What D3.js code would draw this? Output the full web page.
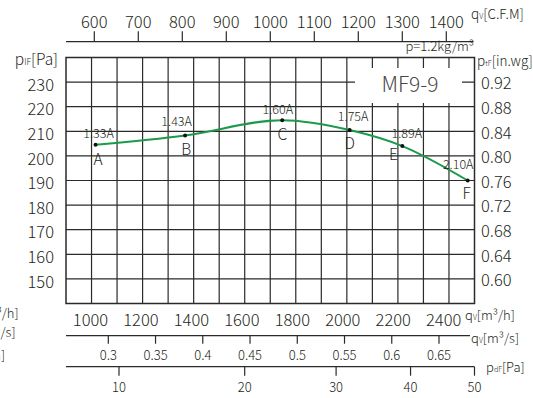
<!DOCTYPE html>
<html>
<head>
<meta charset="utf-8">
<script src="https://cdn.jsdelivr.net/npm/d3@7/dist/d3.min.js"></script>
<style>
  body { margin: 0; background: #fff; }
  svg { display: block; font-family: "Noto Sans CJK SC", "Noto Sans", sans-serif; font-weight: 300; }
  text { fill: #231f20; }
</style>
</head>
<body>
<svg width="533" height="398"></svg>
<script>
//// FAN CURVE MF9-9 ////

// Operating points
var pointNames = ["A", "B", "C", "D", "E", "F"];
var flowM3h = [1020, 1375, 1760, 2027, 2236, 2495];
var pressurePa = [204.5, 208.3, 214.5, 210.5, 204, 190];
var currents = ["1.33A", "1.43A", "1.60A", "1.75A", "1.89A", "2.10A"];

// Tick labels of every axis
var paTicks = [150, 160, 170, 180, 190, 200, 210, 220, 230];
var inwgTicks = ["0.60", "0.64", "0.68", "0.72", "0.76", "0.80", "0.84", "0.88", "0.92"];
var cfmTicks = [600, 700, 800, 900, 1000, 1100, 1200, 1300, 1400];
var m3hTicks = [1000, 1200, 1400, 1600, 1800, 2000, 2200, 2400];
var m3sTicks = [0.3, 0.35, 0.4, 0.45, 0.5, 0.55, 0.6, 0.65];
var pdTicks = [10, 20, 30, 40, 50];

// Layout
var svg = d3.select("svg");
var frame = {left: 66, right: 474.5, top: 57.5, bottom: 303.5};
var ink = "#2a2a2a";
var green = "#1c9a4b";

// nudges for the current label and the letter of each point [dx, dy]
var tagNudge = [
  [[3, -11], [2.5, 15]],
  [[-8.5, -14], [1, 14]],
  [[-4.5, -11], [0, 14.5]],
  [[3.5, -13], [0, 13.5]],
  [[4.5, -12], [-9, 8.5]],
  [[-9.5, -15.5], [-1, 13.5]]
];

// Scales
var y = d3.scaleLinear().domain([140, 240]).range([frame.bottom, frame.top]);
var yInwg = d3.scaleLinear().domain([0.56, 0.96]).range([frame.bottom, frame.top]);
var x = d3.scaleLinear().domain([1000, 2400]).range([90.5, 443.7]);
var xGrid = d3.scaleLinear().domain([0, 16]).range([frame.left, frame.right]);
var xCfm = d3.scaleLinear().domain([600, 1400]).range([94.3, 446.3]);
var xM3s = d3.scaleLinear().domain([0.3, 0.65]).range([108.3, 439]);
var xPd = d3.scalePow().exponent(0.4).domain([10, 50]).range([119, frame.right]);

// Grid
var grid = svg.append("g").attr("stroke", ink).attr("stroke-width", 1.2);
grid.selectAll(".v").data(d3.range(1, 16)).enter().append("line")
  .attr("x1", function(d) { return xGrid(d); })
  .attr("x2", function(d) { return xGrid(d); })
  .attr("y1", frame.top).attr("y2", frame.bottom);
grid.selectAll(".h").data(paTicks).enter().append("line")
  .attr("x1", frame.left).attr("x2", frame.right)
  .attr("y1", function(d) { return y(d); })
  .attr("y2", function(d) { return y(d); });

// Model name box covers the grid
svg.append("rect")
  .attr("x", 355).attr("y", 68).attr("width", 107).attr("height", 35)
  .attr("fill", "#fff");
svg.append("text")
  .attr("x", 410).attr("y", 85).attr("dy", "0.35em")
  .attr("text-anchor", "middle")
  .attr("font-size", 21).style("fill", "#4a4a4a")
  .text("MF9-9");

// Frame
svg.append("rect")
  .attr("x", frame.left).attr("y", frame.top)
  .attr("width", frame.right - frame.left).attr("height", frame.bottom - frame.top)
  .attr("fill", "none").attr("stroke", ink).attr("stroke-width", 1.5);

// Left axis (Pa)
svg.append("g").selectAll("text").data(paTicks).enter().append("text")
  .attr("x", 54).attr("y", function(d) { return y(d) + 3; }).attr("dy", "0.35em")
  .attr("text-anchor", "end").attr("font-size", 16.5)
  .text(function(d) { return d; });

// Right axis (in.wg)
svg.append("g").selectAll("text").data(inwgTicks).enter().append("text")
  .attr("x", 481).attr("y", function(d) { return yInwg(+d) + 1.5; }).attr("dy", "0.35em")
  .attr("font-size", 16.5)
  .text(function(d) { return d; });

// Top axis (CFM)
var topY = 41.7;
svg.append("line")
  .attr("x1", frame.left).attr("x2", frame.right - 1).attr("y1", topY).attr("y2", topY)
  .attr("stroke", ink).attr("stroke-width", 1.2);
var topAxis = svg.append("g").selectAll("g").data(cfmTicks).enter().append("g");
topAxis.append("line")
  .attr("x1", function(d) { return xCfm(d); }).attr("x2", function(d) { return xCfm(d); })
  .attr("y1", topY).attr("y2", topY - 10.5)
  .attr("stroke", ink).attr("stroke-width", 1.2);
topAxis.append("text")
  .attr("x", function(d) { return xCfm(d); }).attr("y", 22.5).attr("dy", "0.35em")
  .attr("text-anchor", "middle").attr("font-size", 16.5)
  .text(function(d) { return d; });

// Bottom flow labels (m3/h)
svg.append("g").selectAll("text").data(m3hTicks).enter().append("text")
  .attr("x", function(d) { return x(d); }).attr("y", 320.5).attr("dy", "0.35em")
  .attr("text-anchor", "middle").attr("font-size", 16.5)
  .text(function(d) { return d; });

// m3/s axis
var m3sY = 335.7;
svg.append("line")
  .attr("x1", frame.left).attr("x2", 470).attr("y1", m3sY).attr("y2", m3sY)
  .attr("stroke", ink).attr("stroke-width", 1.2);
var m3sAxis = svg.append("g").selectAll("g").data(m3sTicks).enter().append("g");
m3sAxis.append("line")
  .attr("x1", function(d) { return xM3s(d); }).attr("x2", function(d) { return xM3s(d); })
  .attr("y1", m3sY).attr("y2", m3sY + 8)
  .attr("stroke", ink).attr("stroke-width", 1.2);
m3sAxis.append("text")
  .attr("x", function(d) { return xM3s(d); }).attr("y", 355.5).attr("dy", "0.35em")
  .attr("text-anchor", "middle").attr("font-size", 13)
  .text(function(d) { return d; });

// dynamic pressure axis
var pdY = 366.7;
svg.append("line")
  .attr("x1", frame.left).attr("x2", frame.right).attr("y1", pdY).attr("y2", pdY)
  .attr("stroke", ink).attr("stroke-width", 1.2);
var pdAxis = svg.append("g").selectAll("g").data(pdTicks).enter().append("g");
pdAxis.append("line")
  .attr("x1", function(d) { return xPd(d); }).attr("x2", function(d) { return xPd(d); })
  .attr("y1", pdY).attr("y2", pdY + 9)
  .attr("stroke", ink).attr("stroke-width", 1.2);
pdAxis.append("text")
  .attr("x", function(d) { return xPd(d); }).attr("y", 387.5).attr("dy", "0.35em")
  .attr("text-anchor", "middle").attr("font-size", 13)
  .text(function(d) { return d; });

// Unit labels: [main, subscript, rest]
function unitLabel(x0, y0, anchor, size, parts) {
  var t = svg.append("text")
    .attr("x", x0).attr("y", y0).attr("dy", "0.35em")
    .attr("text-anchor", anchor).attr("font-size", size);
  t.append("tspan").text(parts[0]);
  t.append("tspan").attr("font-size", size * 0.55).text(parts[1]);
  t.append("tspan").text(parts[2]);
}
unitLabel(58, 60, "end", 15.5, ["p", "IF", "[Pa]"]);
unitLabel(477, 61, "start", 13.5, ["p", "tF", "[in.wg]"]);
unitLabel(471, 14.5, "start", 13.5, ["q", "V", "[C.F.M]"]);
unitLabel(465, 315, "start", 13, ["q", "V", "[m³/h]"]);
unitLabel(471, 338, "start", 13, ["q", "V", "[m³/s]"]);
unitLabel(486, 367, "start", 13, ["p", "dF", "[Pa]"]);
// cut off labels at the left edge
unitLabel(18.5, 313, "end", 13, ["q", "V", "[m³/h]"]);
unitLabel(15.5, 332, "end", 13, ["q", "V", "[m³/s]"]);
unitLabel(5, 355, "end", 13, ["p", "dF", "[Pa]"]);

svg.append("text")
  .attr("x", 474).attr("y", 50.5)
  .attr("text-anchor", "end").attr("font-size", 13)
  .text("p=1.2kg/m³");

// Curve
var pts = flowM3h.map(function(q, i) { return {q: q, p: pressurePa[i], name: pointNames[i], amp: currents[i], nudge: tagNudge[i]}; });
var line = d3.line()
  .x(function(d) { return x(d.q); })
  .y(function(d) { return y(d.p); })
  .curve(d3.curveMonotoneX);
svg.append("path")
  .datum(pts)
  .attr("d", line)
  .attr("fill", "none").attr("stroke", green).attr("stroke-width", 2);

var marks = svg.append("g").selectAll("g").data(pts).enter().append("g");
marks.append("circle")
  .attr("cx", function(d) { return x(d.q); })
  .attr("cy", function(d) { return y(d.p); })
  .attr("r", 2).attr("fill", "#111");
marks.append("text")
  .attr("x", function(d) { return x(d.q) + d.nudge[0][0]; })
  .attr("y", function(d) { return y(d.p) + d.nudge[0][1]; })
  .attr("dy", "0.35em").attr("text-anchor", "middle").attr("font-size", 12.5)
  .text(function(d) { return d.amp; });
marks.append("text")
  .attr("x", function(d) { return x(d.q) + d.nudge[1][0]; })
  .attr("y", function(d) { return y(d.p) + d.nudge[1][1]; })
  .attr("dy", "0.35em").attr("text-anchor", "middle").attr("font-size", 15.5)
  .text(function(d) { return d.name; });
</script>
</body>
</html>
